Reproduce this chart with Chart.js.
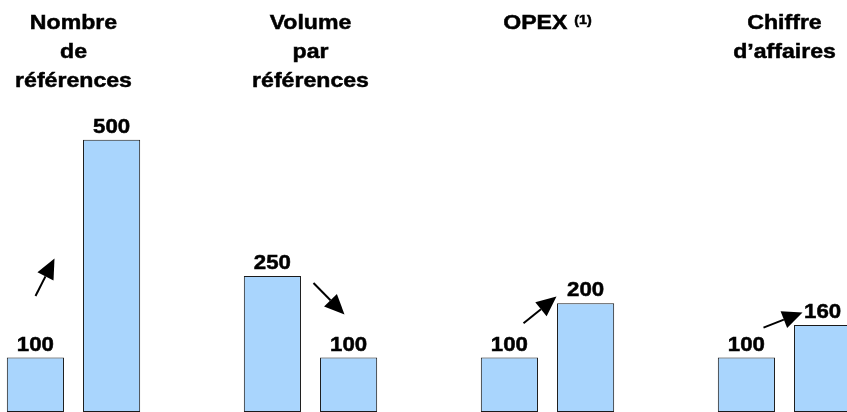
<!DOCTYPE html>
<html>
<head>
<meta charset="utf-8">
<script src="https://cdn.jsdelivr.net/npm/chart.js@4/dist/chart.umd.min.js"></script>
<style>
  html, body { margin: 0; padding: 0; background: #fff; overflow: hidden; }
  #wrap { position: absolute; left: -45px; top: 0; width: 948px; height: 412px; }
</style>
</head>
<body>
<div id="wrap"><canvas id="chart" width="948" height="412"></canvas></div>
<script>
// Data (base 100 before / after)
const titles = [
  ['Nombre', 'de', 'références'],
  ['Volume', 'par', 'références'],
  ['OPEX'],
  ['Chiffre', 'd’affaires']
]
const titleNotes = ['', '', '(1)', '']
const before = [100, 250, 100, 100]
const after = [500, 100, 200, 160]

// Arrow annotations: dx in px from the group centre, y in value units
const arrows = [
  { from: [-38, 213], to: [-19, 282] },
  { from: [3, 237], to: [34, 179] },
  { from: [-24, 163], to: [9, 212] },
  { from: [-21, 155], to: [18, 183] }
]

const FONT = '"Liberation Sans", Arial, Helvetica, sans-serif'
const barFill = '#a9d5fd'
const barLine = '#1a1a1a'

// draws slightly widened, slightly heavier text (the source looks like Helvetica Bold)
function stretchedText(ctx, text, x, y, sx) {
  ctx.save()
  ctx.translate(x, y)
  ctx.scale(sx, 1)
  ctx.fillText(text, 0, 0)
  ctx.lineWidth = 0.5
  ctx.strokeText(text, 0, 0)
  ctx.restore()
}

const labelsPlugin = {
  id: 'labels',
  afterDatasetsDraw(chart) {
    const ctx = chart.ctx
    const xScale = chart.scales.x
    const yScale = chart.scales.y
    ctx.save()
    ctx.fillStyle = '#000'
    ctx.strokeStyle = '#000'
    ctx.textAlign = 'center'
    ctx.textBaseline = 'alphabetic'

    // value labels
    ctx.font = 'bold 21px ' + FONT
    chart.data.datasets.forEach((ds, di) => {
      chart.getDatasetMeta(di).data.forEach((bar, i) => {
        stretchedText(ctx, String(ds.data[i]), bar.x, bar.y - 7, 1.06)
      })
    })

    // group titles
    titles.forEach((lines, i) => {
      const cx = xScale.getPixelForValue(i)
      const note = titleNotes[i]
      lines.forEach((line, li) => {
        const y = 28.5 + li * 29
        if (li === 0 && note) {
          ctx.font = 'bold 21px ' + FONT
          const w1 = ctx.measureText(line).width * 1.1
          ctx.font = 'bold 13px ' + FONT
          const w2 = ctx.measureText(note).width * 1.1
          const gap = 7
          const left = cx - (w1 + gap + w2) / 2
          ctx.textAlign = 'left'
          ctx.font = 'bold 21px ' + FONT
          stretchedText(ctx, line, left, y, 1.1)
          ctx.font = 'bold 13px ' + FONT
          stretchedText(ctx, note, left + w1 + gap, y - 5, 1.1)
          ctx.textAlign = 'center'
        } else {
          ctx.font = 'bold 21px ' + FONT
          stretchedText(ctx, line, cx, y, 1.1)
        }
      })
    })

    // arrows
    ctx.lineWidth = 2
    arrows.forEach((a, i) => {
      const cx = xScale.getPixelForValue(i)
      const x0 = cx + a.from[0]
      const y0 = yScale.getPixelForValue(a.from[1])
      const x1 = cx + a.to[0]
      const y1 = yScale.getPixelForValue(a.to[1])
      const ang = Math.atan2(y1 - y0, x1 - x0)
      const headLen = 20
      const headHalf = 9
      const bx = x1 - headLen * Math.cos(ang)
      const by = y1 - headLen * Math.sin(ang)
      ctx.beginPath()
      ctx.moveTo(x0, y0)
      ctx.lineTo(bx, by)
      ctx.stroke()
      ctx.beginPath()
      ctx.moveTo(x1, y1)
      ctx.lineTo(bx + headHalf * Math.sin(ang), by - headHalf * Math.cos(ang))
      ctx.lineTo(bx - headHalf * Math.sin(ang), by + headHalf * Math.cos(ang))
      ctx.closePath()
      ctx.fill()
    })
    ctx.restore()
  }
}

new Chart(document.getElementById('chart'), {
  type: 'bar',
  data: {
    labels: titles.map(t => t.join(' ')),
    datasets: [
      {
        label: 'Avant',
        data: before,
        backgroundColor: barFill,
        borderColor: barLine,
        borderWidth: 1,
        borderSkipped: false
      },
      {
        label: 'Après',
        data: after,
        backgroundColor: barFill,
        borderColor: barLine,
        borderWidth: 1,
        borderSkipped: false
      }
    ]
  },
  options: {
    responsive: false,
    animation: false,
    categoryPercentage: 0.643,
    barPercentage: 0.75,
    layout: { padding: 0 },
    plugins: {
      legend: { display: false },
      tooltip: { enabled: false }
    },
    scales: {
      x: { display: false },
      y: { display: false, min: 0, max: 757 }
    }
  },
  plugins: [labelsPlugin]
})
</script>
</body>
</html>
